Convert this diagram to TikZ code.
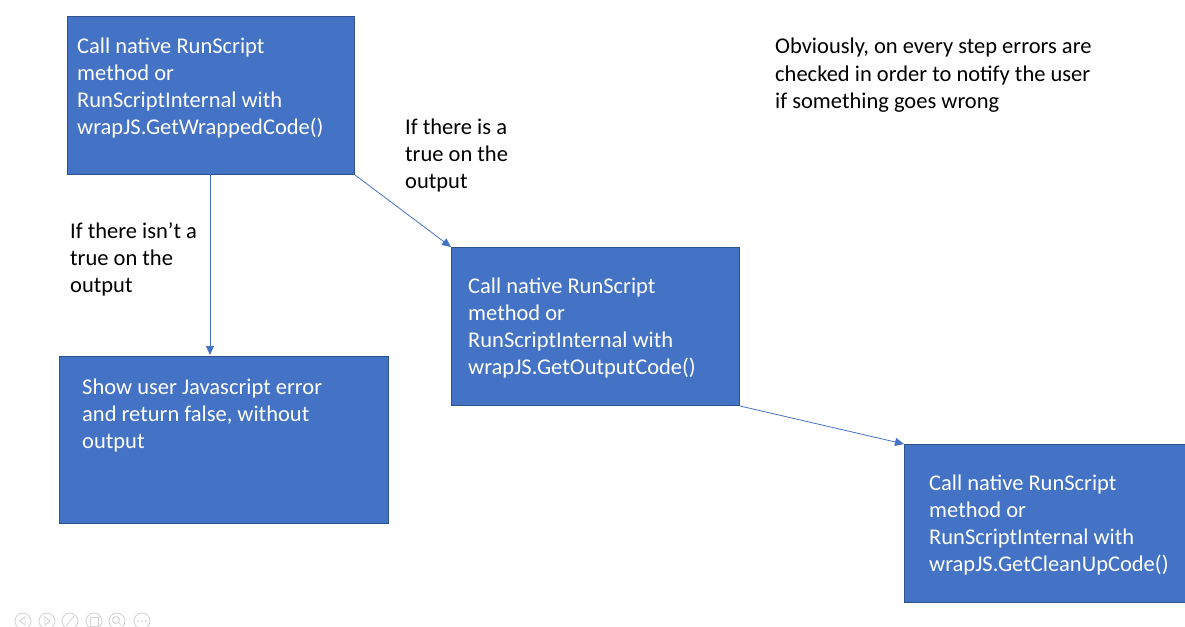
\documentclass[tikz,border=0pt]{standalone}
\usepackage{fontspec}
\setmainfont{Carlito}
\usetikzlibrary{arrows.meta}
\definecolor{boxfill}{HTML}{4472C4}
\definecolor{boxline}{HTML}{2F528F}
\definecolor{arrowc}{HTML}{4472C4}
\definecolor{iconc}{HTML}{D4D4D4}
\tikzset{
  flowbox/.style={draw=boxline, line width=1pt, fill=boxfill, inner sep=0pt, anchor=north west},
  boxtext/.style={text=white, anchor=base west, align=left, inner sep=0pt, font=\fontsize{22.5}{27.2}\selectfont},
  labeltext/.style={text=black, anchor=base west, align=left, inner sep=0pt, font=\fontsize{22.5}{27.2}\selectfont},
  conn/.style={draw=arrowc, line width=0.8pt, -{Triangle[length=9pt,width=8pt]}},
  icon/.style={draw=iconc, line width=0.9pt}
}
\begin{document}
\begin{tikzpicture}[x=1pt,y=-1pt]
\useasboundingbox (0,0) rectangle (1185,626);
% boxes
\node[flowbox, minimum width=287pt, minimum height=158pt] (b1) at (67,16) {};
\node[flowbox, minimum width=288pt, minimum height=158pt] (b2) at (451,247) {};
\node[flowbox, minimum width=281pt, minimum height=158pt] (b3) at (904,444) {};
\node[flowbox, minimum width=329pt, minimum height=167pt] (b4) at (59,356) {};
% box texts (anchored at the baseline of the last line)
\node[boxtext] (t1) at (77,134.6) {Call native RunScript\\method or\\RunScriptInternal with\\wrapJS.GetWrappedCode()};
\node[boxtext] (t2) at (468,374.6) {Call native RunScript\\method or\\RunScriptInternal with\\wrapJS.GetOutputCode()};
\node[boxtext] (t3) at (929,571.6) {Call native RunScript\\method or\\RunScriptInternal with\\wrapJS.GetCleanUpCode()};
\node[boxtext] (t4) at (82,448.4) {Show user Javascript error\\and return false, without\\output};
% labels
\node[labeltext] (l1) at (405,188.4) {If there is a\\true on the\\output};
\node[labeltext] (l2) at (70,292.4) {If there isn’t a\\true on the\\output};
\node[labeltext] (l3) at (775,108.4) {Obviously, on every step errors are\\checked in order to notify the user\\if something goes wrong};
% connectors
\coordinate (c1) at (210,174);
\coordinate (c4) at (210,355);
\draw[conn] (c1) -- (c4);
\draw[conn] (b1.south east) -- (b2.north west);
\draw[conn] (b2.south east) -- (b3.north west);
% faint slide controls
\begin{scope}
\clip (0,0) rectangle (1185,626);
\foreach \x/\n in {23/ia,47/ib,70/ic,94/id,117/ie,142/if}{
  \node[icon, circle, minimum size=16pt, inner sep=0pt] (\n) at (\x,621) {};
}
\draw[icon] (25,617) -- (20,621) -- (25,625) -- cycle;
\draw[icon] (45,617) -- (50,621) -- (45,625) -- cycle;
\draw[icon] (66,626) -- (74,616);
\draw[icon] (90,617) rectangle (98,626);
\draw[icon] (116,620) circle (3.5pt);
\draw[icon] (118.5,622.5) -- (121,625);
\fill[iconc] (138,621) circle (1pt) (142,621) circle (1pt) (146,621) circle (1pt);
\end{scope}
\end{tikzpicture}
\end{document}
